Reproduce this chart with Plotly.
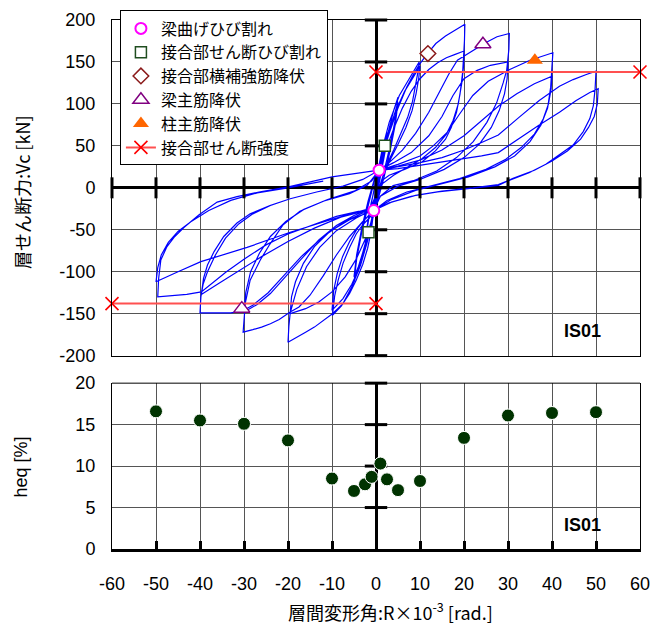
import plotly.graph_objects as go

# ---------------- data ----------------
# hysteresis path, one list of (R [x10^-3 rad], Vc [kN]) per amplitude (2 cycles each)
loop_01 = [(0, 0), (0.4, 12), (0.7, 21), (1.0, 31), (0.6, 18), (0.2, 5), (-0.2, -10), (-0.5, -27), (-0.8, -33),
           (-1.0, -38), (-0.6, -22), (-0.2, -8), (0.2, 6), (0.6, 19), (1.0, 30), (0.6, 16), (0.1, 2), (-0.4, -14),
           (-0.7, -25), (-1.0, -36), (-0.6, -20), (-0.1, -3)]
loop_025 = [(0.6, 22), (1.2, 35), (2.0, 50), (2.5, 66), (2.1, 48), (1.2, 20), (0.2, -8), (-0.8, -33), (-1.7, -53),
            (-2.5, -72), (-2.1, -52), (-1.2, -22), (-0.2, 4), (0.8, 26), (1.8, 47), (2.5, 63), (2.1, 44), (1.1, 14),
            (0.1, -12), (-0.9, -36), (-1.8, -56), (-2.5, -69), (-2.1, -48), (-1.1, -18), (-0.1, 4)]
loop_05 = [(1.0, 26), (2.0, 50), (3.0, 72), (4.0, 92), (5.0, 108), (4.4, 82), (3.2, 50), (1.8, 18), (0.5, -10),
           (-0.8, -35), (-2.0, -58), (-3.0, -78), (-4.0, -96), (-5.0, -112), (-4.4, -85), (-3.2, -52), (-1.8, -20),
           (-0.5, 6), (0.8, 28), (2.0, 50), (3.0, 68), (4.0, 86), (5.0, 102), (4.4, 76), (3.2, 44), (1.8, 12),
           (0.5, -14), (-0.8, -38), (-2.0, -60), (-3.0, -78), (-4.0, -94), (-5.0, -106), (-4.4, -80), (-3.2, -47),
           (-1.8, -16), (-0.5, 8)]
loop_10 = [(0.8, 30), (1.5, 48), (3.0, 78), (5.3, 110), (7.5, 130), (9.8, 150), (9.6, 140), (9.0, 122), (8.3, 103),
           (7.2, 84), (5.7, 65), (4.1, 46), (2.3, 26), (1.0, 5), (0.0, -12), (-0.5, -27), (-1.1, -52), (-1.9, -72),
           (-3.0, -91), (-4.5, -110), (-6.0, -126), (-7.9, -141), (-9.9, -152), (-9.4, -129), (-8.6, -110),
           (-7.5, -90), (-6.0, -71), (-4.5, -55), (-3.0, -44), (-1.5, -36), (-0.3, -26), (0.4, -5), (1.3, 40),
           (2.5, 62), (4.5, 92), (6.5, 115), (8.5, 132), (10.0, 145), (9.7, 130), (9.1, 112), (8.2, 92), (6.8, 72),
           (5.0, 52), (3.3, 34), (1.6, 14), (0.3, -8), (-0.5, -27), (-1.4, -50), (-2.5, -72), (-3.8, -95),
           (-5.5, -115), (-7.5, -132), (-10.0, -146), (-9.6, -122), (-8.8, -102), (-7.6, -82), (-6.0, -64),
           (-4.3, -49), (-2.6, -38), (-1.0, -30), (0.0, -14)]
loop_20 = [(0.7, 21), (1.5, 40), (3, 65), (5, 95), (7, 120), (8.5, 135), (10, 148), (11.7, 160), (13.6, 172),
           (15.8, 181), (18.1, 188), (20.2, 195), (20.1, 175), (19.9, 155), (19.7, 138), (19.1, 112), (18.3, 90),
           (17.1, 72), (15.8, 58), (13.5, 44), (10.5, 31), (6.5, 22), (3, 15), (1.2, 8), (0.3, -8), (-0.5, -27),
           (-1, -42), (-2, -65), (-3.5, -92), (-5.5, -118), (-7.5, -138), (-9.9, -150), (-12, -158), (-14, -166),
           (-16, -172), (-18, -178), (-20, -184), (-19.8, -165), (-19.5, -149), (-18, -121), (-15.8, -94),
           (-12.8, -71), (-9, -51), (-4.5, -36), (-1.5, -28), (0, -8), (0.7, 21), (2, 42), (4, 70), (6, 95),
           (8, 115), (10, 130), (12, 141), (14, 149), (16, 155), (18, 159), (20, 163), (19.9, 145), (19.5, 125),
           (18.7, 100), (17.5, 80), (16, 64), (13.5, 48), (10.5, 35), (7, 24), (4, 15), (1.5, 5), (0.3, -10),
           (-0.5, -27), (-1.2, -42), (-2.5, -62), (-4.5, -85), (-7, -106), (-10, -124), (-13, -136), (-16, -144),
           (-19.5, -150), (-19.2, -130), (-18.3, -112), (-16.5, -90), (-14, -70), (-10.5, -52), (-6, -38),
           (-2, -30), (0, -10)]
loop_30 = [(0.7, 21), (3, 30), (6, 45), (9, 65), (12, 90), (14.5, 115), (16.5, 135), (18.5, 152), (21.9, 163),
           (24.9, 173), (27.5, 180), (30.3, 184), (30.2, 165), (29.7, 140), (28.9, 125), (27.4, 101), (25.2, 78),
           (22.1, 55), (18.3, 36), (13.8, 20), (8.5, 8.5), (3.9, 2.7), (1, -10), (-0.5, -27), (-3, -40), (-6, -58),
           (-9, -80), (-12, -105), (-15, -128), (-17.5, -142), (-19.5, -148), (-22, -157), (-24, -162), (-26, -166),
           (-28, -169), (-30.2, -172), (-29.7, -137), (-28.6, -110), (-26.3, -86), (-24.1, -67), (-21.1, -44),
           (-17.3, -28), (-12, -16), (-6, -7), (-2, 3), (0.7, 21), (4, 30), (8, 42), (12, 62), (15, 85),
           (17.5, 110), (20, 130), (23, 140), (26, 146), (30, 150), (29.8, 130), (29.2, 112), (28, 92), (26.2, 72),
           (23.5, 52), (20, 36), (15.5, 22), (10, 10), (5, 2), (1, -10), (-0.5, -27), (-2.3, -27), (-5, -33),
           (-9, -45), (-13, -62), (-17, -85), (-21, -108), (-24, -126), (-27, -139), (-30, -148), (-29.6, -125),
           (-28.5, -100), (-26.5, -78), (-24, -58), (-20.5, -40), (-16.5, -26), (-11, -14), (-5, -4), (-1, 8),
           (0.7, 21)]
loop_40 = [(5, 28), (10, 38), (13, 50), (16, 65), (19, 88), (22, 110), (25.5, 127), (30.4, 141), (35, 152),
           (40.2, 161), (40, 145), (39.7, 120), (39, 95), (37.5, 75), (35, 55), (31.5, 38), (27, 25), (21, 13),
           (15, 5), (9, -3), (3.5, -14), (-0.5, -27), (-3, -30), (-7, -40), (-12, -58), (-17, -82), (-21, -105),
           (-24.5, -125), (-28, -140), (-30.5, -147), (-33, -149), (-36, -149), (-40, -149), (-39.8, -130),
           (-39.3, -115), (-38.3, -100), (-36.5, -80), (-34.2, -60), (-31.2, -43), (-28, -31), (-24, -21),
           (-19.5, -13), (-13.5, -5), (-7.5, 2), (-3, 10), (0.7, 21), (5, 26), (10, 33), (15, 45), (20, 62),
           (24, 80), (28, 98), (32, 112), (36, 124), (40, 133), (39.8, 118), (39.2, 100), (38, 82), (36, 64),
           (33, 48), (29.5, 34), (25, 22), (19, 11), (13, 3), (7, -5), (2.5, -15), (-0.5, -27), (-3, -28),
           (-8, -35), (-14, -48), (-20, -64), (-26, -82), (-31, -98), (-35.5, -113), (-39.7, -127), (-39.2, -108),
           (-38.3, -92), (-36.8, -76), (-34.6, -58), (-31.6, -42), (-28.6, -31), (-24.1, -21), (-19.5, -13),
           (-13.5, -5), (-7.5, 2), (-3, 10), (0.7, 21)]
loop_50 = [(5, 25), (10, 30), (15, 36), (20, 45), (24, 54), (27.8, 63), (32.5, 84), (37.1, 104), (41.7, 121),
           (44.8, 129), (47.8, 135), (50, 139), (49.8, 118), (49.4, 98), (48.6, 82.5), (47.1, 67), (44.8, 51),
           (41.7, 40), (38.6, 28), (34.8, 18), (30.9, 10.5), (27.8, 4), (22, 0), (15, -4), (9, -9), (3.5, -17),
           (-0.5, -27), (-4, -28), (-9, -34), (-15, -45), (-20, -55), (-25, -68), (-30, -85), (-34, -100),
           (-37, -113), (-39.7, -124), (-43, -127), (-46, -128), (-49.6, -130), (-49.4, -108), (-48.9, -86),
           (-47.5, -70), (-45.9, -59), (-43.6, -47), (-40.2, -32), (-36.1, -17), (-31.6, -10.5), (-26.3, -4.7),
           (-19.9, 1.2), (-10, 13), (0.7, 21), (5, 23), (10, 27), (15, 31), (20, 35), (24, 38), (27.8, 42),
           (32.5, 59), (37.1, 75), (41.7, 90), (45.5, 104), (48.6, 113.6), (50.5, 118), (50.3, 100), (49.6, 85),
           (48.3, 72), (46.5, 58), (43.5, 44), (40, 32), (36, 21), (31, 11), (27.8, 3), (21, -1), (14, -5),
           (8, -10), (3, -18), (-0.5, -27), (-2.3, -26), (-9, -36), (-19.5, -53), (-29.3, -71), (-39.8, -88),
           (-45, -100), (-50, -112), (-49.6, -95), (-48.8, -80), (-47.2, -65), (-45, -52), (-42, -40), (-38, -27),
           (-33, -15), (-27, -6), (-20, 0), (-12, 8)]

# event markers
beam_crack_R, beam_crack_V = [0.7, -0.5], [21, -27]
joint_crack_R, joint_crack_V = [2.0, -1.7], [50, -53]
hoop_yield_R, hoop_yield_V = [11.8], [160]
beam_bar_R, beam_bar_V = [24.3, -30.5], [171, -144]
col_bar_R, col_bar_V = [36.1], [152]
strength_R = [0, 60, None, -60, 0]
strength_V = [138, 138, None, -138, -138]

# equivalent damping
heq_R = [-50, -40, -30, -20, -10, -5, -2.5, -1, 1, 2.5, 5, 10, 20, 30, 40, 50]
heq_V = [16.6, 15.5, 15.1, 13.1, 8.5, 7.0, 7.8, 8.7, 10.3, 8.4, 7.1, 8.2, 13.4, 16.1, 16.4, 16.5]

# ticks
x_ticks = [-60, -50, -40, -30, -20, -10, 0, 10, 20, 30, 40, 50, 60]
x_ticklabels = ["-60", "-50", "-40", "-30", "-20", "-10", "0", "10", "20", "30", "40", "50", "60"]
v_ticks = [-200, -150, -100, -50, 0, 50, 100, 150, 200]
v_ticklabels = ["-200", "-150", "-100", "-50", "0", "50", "100", "150", "200"]
h_ticks = [0, 5, 10, 15, 20]
h_ticklabels = ["0", "5", "10", "15", "20"]

# ---------------- figure ----------------
JP = "Noto Sans CJK JP"
NUM = "Liberation Sans"

path = loop_01 + loop_025 + loop_05 + loop_10 + loop_20 + loop_30 + loop_40 + loop_50
hR = [p[0] for p in path]
hV = [p[1] for p in path]

fig = go.Figure()

fig.add_trace(go.Scatter(x=hR, y=hV, mode="lines", line=dict(color="#0000ff", width=1.2),
                         showlegend=False, hoverinfo="skip", xaxis="x", yaxis="y"))

# tick marks on the central axes (top panel)
fig.add_trace(go.Scatter(x=x_ticks, y=[0] * len(x_ticks), mode="markers", cliponaxis=False,
                         marker=dict(symbol="line-ns", size=15, line=dict(width=3, color="black")),
                         showlegend=False, hoverinfo="skip", xaxis="x", yaxis="y"))
fig.add_trace(go.Scatter(x=[0] * len(v_ticks), y=v_ticks, mode="markers", cliponaxis=False,
                         marker=dict(symbol="line-ew", size=16, line=dict(width=3, color="black")),
                         showlegend=False, hoverinfo="skip", xaxis="x", yaxis="y"))

fig.add_trace(go.Scatter(x=strength_R, y=strength_V, mode="lines+markers", name="接合部せん断強度",
                         line=dict(color="#ff5050", width=2), legendrank=6, cliponaxis=False,
                         marker=dict(symbol="x-thin", size=13, line=dict(width=1.6, color="#ff0000")),
                         xaxis="x", yaxis="y"))
fig.add_trace(go.Scatter(x=beam_crack_R, y=beam_crack_V, mode="markers", name="梁曲げひび割れ", legendrank=1,
                         marker=dict(symbol="circle", size=11, color="white", line=dict(width=2, color="#ff00ff")),
                         xaxis="x", yaxis="y"))
fig.add_trace(go.Scatter(x=joint_crack_R, y=joint_crack_V, mode="markers", name="接合部せん断ひび割れ", legendrank=2,
                         marker=dict(symbol="square", size=11, color="white", line=dict(width=1.5, color="#1f4d1f")),
                         xaxis="x", yaxis="y"))
fig.add_trace(go.Scatter(x=hoop_yield_R, y=hoop_yield_V, mode="markers", name="接合部横補強筋降伏", legendrank=3,
                         marker=dict(symbol="diamond", size=12, color="white", line=dict(width=1.5, color="#8b1a1a")),
                         xaxis="x", yaxis="y"))
fig.add_trace(go.Scatter(x=beam_bar_R, y=beam_bar_V, mode="markers", name="梁主筋降伏", legendrank=4,
                         marker=dict(symbol="triangle-up", size=14, color="white", line=dict(width=1.5, color="#800080")),
                         xaxis="x", yaxis="y"))
fig.add_trace(go.Scatter(x=col_bar_R, y=col_bar_V, mode="markers", name="柱主筋降伏", legendrank=5,
                         marker=dict(symbol="triangle-up", size=14, color="#ff6600", line=dict(width=0)),
                         xaxis="x", yaxis="y"))

# bottom panel
fig.add_trace(go.Scatter(x=[0] * len(h_ticks[1:]), y=h_ticks[1:], mode="markers", cliponaxis=False,
                         marker=dict(symbol="line-ew", size=16, line=dict(width=3, color="black")),
                         showlegend=False, hoverinfo="skip", xaxis="x2", yaxis="y2"))
fig.add_trace(go.Scatter(x=heq_R, y=heq_V, mode="markers", showlegend=False,
                         marker=dict(symbol="circle", size=13, color="#003300", line=dict(width=1, color="white")),
                         xaxis="x2", yaxis="y2"))

grid = "#555555"
tickfont = dict(family=NUM, size=18, color="black")

fig.update_layout(
    width=660, height=636,
    margin=dict(l=112, r=20, t=10, b=87),
    paper_bgcolor="white", plot_bgcolor="white",
    xaxis=dict(domain=[0, 1], anchor="y", range=[-60, 60], tickvals=x_ticks, showticklabels=False,
               showgrid=True, gridcolor=grid, gridwidth=1, zeroline=True, zerolinecolor="black",
               zerolinewidth=3, showline=True, linecolor="black", linewidth=1, mirror=True, ticks=""),
    yaxis=dict(domain=[0.3655, 1.0], anchor="x", range=[-200, 200], tickvals=v_ticks, ticktext=v_ticklabels,
               showgrid=True, gridcolor=grid, gridwidth=1, zeroline=True, zerolinecolor="black",
               zerolinewidth=3, showline=True, linecolor="black", linewidth=1, mirror=True, ticks="",
               tickfont=tickfont, ticklabelstandoff=12),
    xaxis2=dict(domain=[0, 1], anchor="y2", range=[-60, 60], tickvals=x_ticks, ticktext=x_ticklabels,
                showgrid=True, gridcolor=grid, gridwidth=1, zeroline=True, zerolinecolor="black",
                zerolinewidth=3, showline=True, linecolor="black", linewidth=3, mirror=False,
                ticks="inside", ticklen=8, tickwidth=3, tickcolor="black",
                tickfont=tickfont, ticklabelstandoff=16),
    yaxis2=dict(domain=[0, 0.3135], anchor="x2", range=[0, 20], tickvals=h_ticks, ticktext=h_ticklabels,
                showgrid=True, gridcolor=grid, gridwidth=1, zeroline=False,
                showline=True, linecolor="black", linewidth=1, mirror=True, ticks="",
                tickfont=tickfont, ticklabelstandoff=12),
    legend=dict(x=0.015, y=1.018, xanchor="left", yanchor="top", bgcolor="white", bordercolor="black",
                borderwidth=1, font=dict(family=JP, size=16, color="black"), tracegroupgap=0, itemwidth=30),
    shapes=[dict(type="line", xref="x2 domain", yref="y2 domain", x0=0, x1=1, y0=1, y1=1,
                 line=dict(color="black", width=1))],
    annotations=[
        dict(text="層せん断力:Vc [kN]", xref="paper", yref="paper", x=-0.1705, y=0.675, textangle=-90,
             showarrow=False, font=dict(family=JP, size=18, color="black"), xanchor="center", yanchor="middle"),
        dict(text="heq [%]", xref="paper", yref="paper", x=-0.1705, y=0.156, textangle=-90,
             showarrow=False, font=dict(family=NUM, size=18, color="black"), xanchor="center", yanchor="middle"),
        dict(text="層間変形角:R×10<sup>-3</sup> [rad.]", xref="paper", yref="paper", x=0.527, y=-0.118,
             showarrow=False, font=dict(family=JP, size=18, color="black"), xanchor="center", yanchor="middle"),
        dict(text="<b>IS01</b>", xref="x", yref="y", x=47, y=-171, showarrow=False,
             font=dict(family=NUM, size=18, color="black")),
        dict(text="<b>IS01</b>", xref="x2", yref="y2", x=47, y=2.9, showarrow=False,
             font=dict(family=NUM, size=18, color="black")),
    ],
)

fig.write_html("out.html")
